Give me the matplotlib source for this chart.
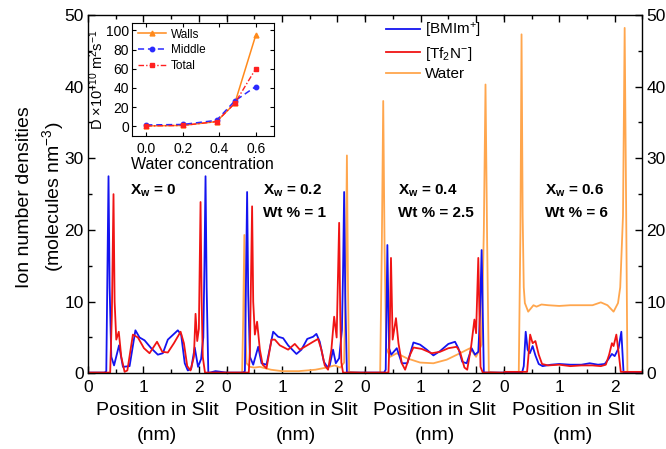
import matplotlib.pyplot as plt
from matplotlib.ticker import MultipleLocator

plt.rcParams['font.family'] = ['Liberation Sans', 'DejaVu Sans']
plt.rcParams['mathtext.fontset'] = 'custom'
plt.rcParams['mathtext.rm'] = 'Liberation Sans'
plt.rcParams['mathtext.it'] = 'Liberation Sans'
plt.rcParams['mathtext.bf'] = 'Liberation Sans:bold'
plt.rcParams['mathtext.default'] = 'regular'

# ---- density profiles (position in nm, density) ----
# X_w = 0
x_bmim_0 = [0, 0.30, 0.33, 0.35, 0.37, 0.39, 0.42, 0.47, 0.56, 0.63, 0.75, 0.855, 0.93, 1.02, 1.14, 1.26,
            1.35, 1.44, 1.565, 1.62, 1.68, 1.745, 1.80, 1.86, 1.925, 1.985, 2.04, 2.08, 2.10, 2.12, 2.14,
            2.17, 2.20, 2.30, 2.40, 2.50]
bmim_0 = [0.1, 0.1, 0.3, 14, 27.5, 12, 2.3, 1.1, 3.9, 0.9, 1.0, 6.0, 5.0, 4.6, 3.5, 2.6,
          2.8, 4.7, 5.6, 6.0, 5.4, 1.4, 0.4, 0.6, 3.6, 0.9, 2.0, 5, 15, 27.5, 12,
          0.1, 0.1, 0.3, 0.2, 0.1]
x_tf2n_0 = [0, 0.40, 0.43, 0.46, 0.48, 0.51, 0.555, 0.60, 0.66, 0.71, 0.81, 0.90, 1.01, 1.11, 1.245, 1.34,
            1.44, 1.55, 1.67, 1.73, 1.79, 1.85, 1.91, 1.94, 1.97, 2.00, 2.03, 2.05, 2.07, 2.11, 2.50]
tf2n_0 = [0.1, 0.1, 8, 25.0, 10, 4.7, 5.8, 2.3, 0.2, 0.4, 5.4, 5.0, 3.5, 2.8, 4.4, 3.0,
          2.9, 4.2, 5.8, 4.2, 1.0, 0.4, 2.3, 8.3, 4.5, 6.2, 23.9, 10, 2.3, 0.1, 0.1]

# X_w = 0.2
x_bmim_2 = [0, 0.30, 0.33, 0.35, 0.37, 0.39, 0.42, 0.48, 0.57, 0.63, 0.72, 0.84, 0.93, 1.02, 1.11, 1.26,
            1.35, 1.455, 1.56, 1.62, 1.68, 1.755, 1.815, 1.86, 1.92, 1.97, 2.03, 2.08, 2.10, 2.12, 2.14,
            2.17, 2.50]
bmim_2 = [0.1, 0.1, 0.3, 13, 25.3, 11, 2.3, 1.2, 3.7, 1.4, 1.2, 5.8, 5.1, 4.9, 3.9, 2.7,
          3.3, 4.8, 5.1, 5.5, 4.4, 1.6, 0.9, 1.1, 3.3, 1.4, 2.1, 6, 14, 25.3, 11,
          0.1, 0.1]
x_tf2n_2 = [0, 0.40, 0.42, 0.46, 0.48, 0.51, 0.55, 0.60, 0.65, 0.72, 0.81, 0.87, 0.96, 1.11, 1.23, 1.32,
            1.41, 1.56, 1.65, 1.71, 1.77, 1.83, 1.89, 1.94, 1.985, 2.03, 2.05, 2.07, 2.10, 2.50]
tf2n_2 = [0.1, 0.1, 3, 23.3, 10, 5.4, 7.2, 3.3, 1.2, 0.7, 4.7, 4.7, 3.9, 3.3, 4.1, 3.3,
          3.7, 4.4, 4.8, 3.3, 1.1, 0.5, 3.3, 7.9, 5.0, 21.0, 8, 1.5, 0.1, 0.1]
x_water_2 = [0, 0.28, 0.30, 0.32, 0.34, 0.36, 0.42, 0.50, 0.60, 0.80, 1.00, 1.30, 1.60, 1.80, 1.95, 2.05,
             2.12, 2.15, 2.17, 2.19, 2.21, 2.50]
water_2 = [0, 0, 8, 19.3, 6, 1.4, 0.9, 0.8, 0.9, 0.5, 0.3, 0.3, 0.5, 0.8, 1.1, 0.8,
           1.5, 14, 30.4, 12, 0.2, 0]

# X_w = 0.4
x_bmim_4 = [0, 0.34, 0.37, 0.40, 0.43, 0.47, 0.57, 0.66, 0.76, 0.87, 0.99, 1.11, 1.23, 1.35, 1.50, 1.62,
            1.68, 1.75, 1.83, 1.92, 1.98, 2.04, 2.07, 2.10, 2.14, 2.50]
bmim_4 = [0.1, 0.1, 0.5, 17.9, 3.5, 2.6, 3.5, 1.4, 1.4, 4.3, 4.0, 3.3, 2.5, 3.1, 4.1, 4.4,
          3.5, 1.6, 1.4, 3.5, 2.6, 3.0, 8, 17.2, 0.1, 0.1]
x_tf2n_4 = [0, 0.42, 0.44, 0.465, 0.495, 0.555, 0.60, 0.66, 0.72, 0.81, 0.87, 1.02, 1.20, 1.35, 1.50, 1.65,
            1.71, 1.79, 1.84, 1.91, 1.97, 2.00, 2.04, 2.08, 2.12, 2.50]
tf2n_4 = [0.1, 0.1, 5, 16.1, 4.7, 7.7, 4.2, 1.4, 0.5, 2.6, 3.6, 3.4, 2.8, 3.0, 3.5, 3.7,
          3.0, 0.8, 0.5, 3.7, 7.5, 5.6, 16.1, 0.9, 0.1, 0.1]
x_water_4 = [0, 0.27, 0.30, 0.325, 0.35, 0.38, 0.45, 0.57, 0.75, 0.99, 1.23, 1.47, 1.71, 1.89, 2.00, 2.10,
             2.14, 2.17, 2.20, 2.23, 2.50]
water_4 = [0, 0, 18, 38.0, 17, 3.5, 2.3, 2.8, 2.1, 1.5, 1.4, 1.9, 2.8, 3.5, 2.3, 4,
           20, 40.3, 18, 0.2, 0]

# X_w = 0.6
x_bmim_6 = [0, 0.33, 0.36, 0.395, 0.43, 0.47, 0.52, 0.57, 0.63, 0.70, 0.85, 1.00, 1.20, 1.40, 1.55, 1.70,
            1.82, 1.88, 1.95, 2.00, 2.07, 2.12, 2.16, 2.50]
bmim_6 = [0.1, 0.1, 1, 5.8, 3.3, 2.8, 3.8, 2.5, 1.3, 1.0, 1.2, 1.3, 1.2, 1.2, 1.4, 1.2,
          1.3, 1.9, 2.7, 2.4, 3.5, 5.8, 0.1, 0.1]
x_tf2n_6 = [0, 0.42, 0.44, 0.475, 0.52, 0.57, 0.63, 0.69, 0.80, 1.00, 1.20, 1.40, 1.60, 1.75, 1.84, 1.90,
            1.95, 1.98, 2.03, 2.08, 2.11, 2.50]
tf2n_6 = [0.2, 0.2, 2, 5.4, 4.2, 4.5, 2.6, 1.3, 1.1, 1.2, 1.0, 1.1, 1.1, 1.0, 1.2, 2.6,
          4.2, 3.8, 5.4, 2.3, 0.2, 0.2]
x_water_6 = [0, 0.27, 0.30, 0.32, 0.34, 0.36, 0.38, 0.44, 0.535, 0.59, 0.68, 0.80, 1.00, 1.20, 1.40, 1.60,
             1.75, 1.87, 1.98, 2.06, 2.10, 2.15, 2.18, 2.21, 2.23, 2.50]
water_6 = [0, 0, 20, 47.3, 22, 12, 9.8, 8.6, 9.5, 9.3, 9.6, 9.5, 9.4, 9.5, 9.5, 9.5,
           9.9, 9.5, 8.6, 9.8, 12, 22, 48.2, 20, 0.2, 0]

panel_titles = [r"$\mathbf{X_w}$ = 0", r"$\mathbf{X_w}$ = 0.2", r"$\mathbf{X_w}$ = 0.4", r"$\mathbf{X_w}$ = 0.6"]
panel_wt = [None, "Wt % = 1", "Wt % = 2.5", "Wt % = 6"]

# ---- inset: diffusion coefficients ----
water_conc = [0.0, 0.2, 0.385, 0.485, 0.6]
d_walls = [0.5, 1.0, 5.0, 24.0, 95.0]
d_middle = [1.5, 2.0, 6.3, 26.5, 41.5]
d_total = [0.5, 1.0, 5.0, 24.0, 60.0]

BLUE = '#1414f0'
RED = '#f01414'
ORANGE = '#ffa64d'

W, H = 666, 449
fig = plt.figure(figsize=(6.66, 4.49), dpi=100)


def px_box(x0, y0, w, h):
    # pixel box (top-left origin) -> figure fraction
    return [x0 / W, 1 - (y0 + h) / H, w / W, h / H]


profiles = [
    [(x_bmim_0, bmim_0), (x_tf2n_0, tf2n_0), None],
    [(x_bmim_2, bmim_2), (x_tf2n_2, tf2n_2), (x_water_2, water_2)],
    [(x_bmim_4, bmim_4), (x_tf2n_4, tf2n_4), (x_water_4, water_4)],
    [(x_bmim_6, bmim_6), (x_tf2n_6, tf2n_6), (x_water_6, water_6)],
]
labels = [r"[BMIm$^{+}$]", r"[Tf$_{2}$N$^{-}$]", "Water"]
colors = [BLUE, RED, ORANGE]
text_x = [130, 263, 398, 545]

panel_w = 138.6
axes = []
for i, curves in enumerate(profiles):
    ax = fig.add_axes(px_box(88 + i * panel_w, 15, panel_w, 358.3))
    # water drawn first so the ions sit on top of it
    for k in [2, 0, 1]:
        if curves[k] is None:
            continue
        ax.plot(curves[k][0], curves[k][1], color=colors[k], lw=1.3, label=labels[k])
    ax.set_xlim(0, 2.5)
    ax.set_ylim(0, 50)
    ax.xaxis.set_major_locator(MultipleLocator(1))
    ax.xaxis.set_minor_locator(MultipleLocator(0.5))
    ax.yaxis.set_major_locator(MultipleLocator(10))
    ax.yaxis.set_minor_locator(MultipleLocator(5))
    ax.tick_params(which='both', direction='in', top=True, bottom=True,
                   left=(i == 0), right=(i == 3), labelleft=(i == 0), labelright=(i == 3),
                   labelsize=12.5, width=1.0)
    ax.tick_params(which='major', length=5)
    ax.tick_params(which='minor', length=3)
    ax.tick_params(axis='x', pad=5)
    ax.tick_params(axis='y', pad=3)
    if i > 0:
        ax.spines['left'].set_visible(False)
    if i < 3:
        ax.spines['right'].set_visible(False)
    for s in ax.spines.values():
        s.set_linewidth(1.0)
    ax.set_xlabel("Position in Slit\n(nm)", fontsize=14, linespacing=1.6, labelpad=5)
    ax.set_xticks([0, 1, 2])
    fig.text(text_x[i] / W, 1 - 191 / H, panel_titles[i], fontsize=11, fontweight='bold',
             ha='left', va='center')
    if panel_wt[i]:
        fig.text(text_x[i] / W, 1 - 213 / H, panel_wt[i], fontsize=11, fontweight='bold',
                 ha='left', va='center')
    axes.append(ax)

fig.text(41 / W, 1 - 197 / H, "Ion number densities\n(molecules nm$^{-3}$)", fontsize=14,
         rotation=90, ha='center', va='center', multialignment='center', linespacing=1.35)

handles, leg_labels = axes[3].get_legend_handles_labels()
order = [leg_labels.index(l) for l in labels]
fig.legend([handles[j] for j in order], [leg_labels[j] for j in order],
           loc='upper left', bbox_to_anchor=(386 / W, 1 - 21 / H), frameon=False,
           fontsize=11, handlelength=2.2, handletextpad=0.35, labelspacing=0.3,
           borderpad=0, borderaxespad=0)

# inset
ax_in = fig.add_axes(px_box(131.7, 22.7, 142.3, 113.3))
ax_in.plot(water_conc, d_walls, color='#ff8a1c', lw=1.1, marker='^', ms=3.5, label='Walls')
ax_in.plot(water_conc, d_middle, color='#2a2aff', lw=1.1, ls=(0, (4, 2.5)), marker='o', ms=3.2,
           label='Middle')
ax_in.plot(water_conc, d_total, color='#ff2020', lw=1.0, ls=(0, (4, 1.5, 1, 1.5)), marker='s', ms=3,
           label='Total')
ax_in.set_xlim(-0.08, 0.7)
ax_in.set_ylim(-10, 108)
ax_in.xaxis.set_major_locator(MultipleLocator(0.2))
ax_in.yaxis.set_major_locator(MultipleLocator(20))
ax_in.tick_params(direction='in', top=True, right=True, labelsize=10, length=3)
ax_in.tick_params(axis='x', pad=4)
ax_in.tick_params(axis='y', pad=2)
ax_in.set_xlabel("Water concentration", fontsize=11.5, labelpad=1)
ax_in.set_ylabel(r"D $\times$10$^{-10}$ m$^{2}$s$^{-1}$", fontsize=10.5, labelpad=0)
ax_in.legend(loc='upper left', frameon=False, fontsize=8.5, handlelength=2.4, handletextpad=0.4,
             labelspacing=0.3, borderpad=0.2, borderaxespad=0.3)

fig.savefig("out.png", dpi=100)
